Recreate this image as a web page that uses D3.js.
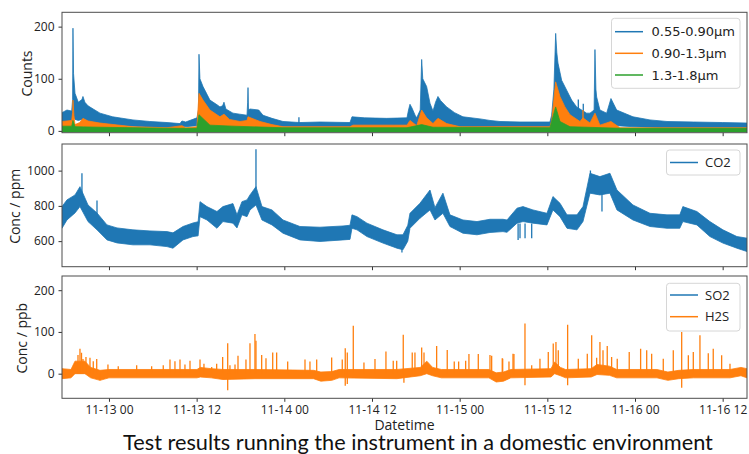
<!DOCTYPE html>
<html>
<head>
  <meta charset="utf-8">
  <title>Domestic environment test</title>
  <script src="https://cdn.jsdelivr.net/npm/d3@7"></script>
  <style>
  body {
    margin: 0;
    background: #fff;
  }
  text {
    font-family: "Open Sans", sans-serif;
    fill: #222;
  }
  .tick text {
    font-size: 12px;
  }
  .tick line {
    stroke: #333;
  }
  .domain {
    display: none;
  }
  .frame {
    fill: none;
    stroke: #4d4d4d;
    stroke-width: 1;
  }
  .legend rect {
    fill: #fff;
    fill-opacity: .8;
    stroke: #d6d6d6;
  }
  </style>
</head>
<body>
<script>
// Times are hours since 11-13 00:00, each row is [hour, low edge, high edge] of the noisy trace

// Particle counts
var small = [[-6.43,15,35],[-5.75,16,40],[-5.1,17,38],[-4.98,20,60],[-4.93,25,197],[-4.85,25,110],[-4.65,22,72],[-4.2,20,55],[-3.7,22,60],[-3.56,22,66],[-3.3,20,55],[-2.87,18,48],[-1.23,14,34],[0.5,11,27],[3.28,9,21],[5.6,7,18],[7.94,6,16],[9.72,6,14],[9.99,8,19],[10.5,8,17],[12.04,10,25],[12.25,15,40],[12.32,30,147],[12.45,30,100],[12.87,26,85],[13.82,22,59],[14.8,20,50],[15.19,20,46],[15.55,22,48],[15.74,25,55],[16.0,20,42],[16.97,16,34],[17.9,15,32],[18.89,14,30],[18.98,18,55],[19.03,18,83],[19.1,16,40],[19.3,14,42],[20.5,14,40],[21.08,12,30],[22.31,10,24],[23.82,8,18],[26.14,7,16],[28.88,7,17],[32.99,7,16],[33.26,10,27],[35,10,25],[38,10,24],[40.79,11,25],[41.0,14,40],[41.2,15,51],[41.47,12,44],[41.9,10,30],[42.12,8,25],[42.6,10,40],[42.8,15,137],[42.95,15,100],[43.48,14,85],[43.94,12,53],[44.35,10,38],[44.7,12,55],[45.03,12,66],[45.4,12,58],[46.22,12,46],[47.3,10,35],[48.45,8,27],[50.78,7,23],[52.15,7,20],[53.52,6,18],[56.26,6,17],[60.36,6,17],[60.59,10,30],[60.9,20,80],[61.14,30,187],[61.3,30,150],[61.46,28,130],[61.96,24,97],[62.65,20,78],[63.33,18,59],[64.01,15,46],[64.47,14,42],[65.38,13,34],[65.84,12,34],[66.4,12,40],[66.52,12,156],[66.65,12,80],[66.75,12,65],[67.2,11,40],[68.12,10,34],[68.71,10,62],[69.49,10,40],[71.72,8,27],[74.05,7,21],[76.38,6,18],[80,6,17],[84,6,16],[87.33,6,15]];
var medium = [[-6.43,8,18],[-5.1,8,20],[-4.98,10,35],[-4.93,10,59],[-4.8,8,30],[-4.65,4,12],[-4.0,5,16],[-3.56,8,24],[-2.87,6,19],[-1.23,5,15],[3.28,3,8],[7.94,2,6],[9.99,3,10],[10.5,2,6],[12.04,3,8],[12.32,10,72],[12.87,10,59],[13.82,8,40],[15.19,6,27],[15.74,8,32],[16.5,6,22],[17.93,5,18],[18.89,5,20],[19.03,6,27],[20.67,5,18],[22.31,4,12],[23.82,3,8],[32.99,3,8],[33.4,4,11],[40.79,4,11],[41.2,6,20],[42.12,4,10],[42.8,6,40],[43.48,5,25],[44.35,4,14],[45.03,6,24],[46.22,4,14],[48.04,3,8],[60.36,3,8],[60.6,5,20],[61.14,10,94],[61.73,10,66],[62.41,8,46],[63.1,6,31],[64.47,5,18],[64.88,5,25],[65.84,4,15],[66.52,5,34],[67.2,4,11],[68.71,4,18],[69.94,3,6],[87.33,3,6]];
var large = [[-6.43,-2,9],[-5.1,-2,9],[-4.93,-2,20],[-4.65,-2,8],[-1.23,-2,7],[7.94,-2,5],[12.04,-2,5],[12.32,-2,31],[13.82,-2,11],[16.97,-2,9],[23.82,-2,6],[40.79,-2,6],[42.8,-2,12],[44.35,-2,7],[60.36,-2,6],[61.14,-2,46],[61.73,-2,18],[63.1,-2,8],[69.94,-2,5],[87.33,-2,5]];
// single spikes: [hour, from, to]
var smallSpikes = [[26.0,14,26],[64.24,30,60],[64.92,30,52]];
var mediumSpikes = [[64.88,10,40]];

// CO2
var co2 = [[-6.43,673,796],[-5.75,720,834],[-4.65,760,862],[-3.97,796,909],[-2.87,711,805],[-1.64,664,760],[-0.27,607,692],[1.1,590,675],[3.28,579,664],[5.61,579,658],[7.94,569,654],[8.76,560,647],[10.13,607,683],[11.5,626,703],[12.2,630,710],[12.46,739,824],[13.41,720,796],[14.78,673,768],[15.6,711,796],[16.97,702,813],[17.52,675,749],[18.2,749,824],[18.89,739,834],[19.3,777,862],[20.12,805,909],[20.94,720,796],[22.31,692,777],[23.82,645,720],[26.14,607,683],[28.88,598,679],[32.03,607,686],[32.99,610,690],[33.26,673,749],[33.95,664,739],[35.31,626,702],[37.5,589,664],[39.42,560,636],[40.24,551,636],[40.9,600,690],[41.2,673,758],[42.57,730,815],[43.94,777,890],[44.62,720,790],[45.71,758,872],[46.67,683,749],[48.45,645,720],[50.37,636,711],[52.15,649,724],[53.93,654,724],[54.48,650,720],[55.85,702,787],[56.67,711,796],[58.03,702,777],[59.95,692,758],[60.77,777,853],[61.73,739,815],[62.69,673,749],[64.06,664,749],[64.88,711,796],[65.84,872,985],[67.2,862,966],[68.57,872,985],[69.53,777,890],[71.72,720,805],[74.05,683,758],[76.38,673,749],[78.13,673,749],[78.55,711,796],[80.47,692,768],[82.25,626,711],[84.03,589,664],[85.95,560,626],[87.33,541,617]];
var co2Spikes = [[-3.7,860,985],[-1.64,740,830],[20.12,900,1121],[65.9,960,1000],[40.1,600,536],[56.0,700,607],[56.26,700,617],[56.95,700,617],[57.86,700,617],[67.48,880,768]];

// Gases
var so2 = [[-6.43,0],[-4,3],[8,0],[16,-2],[29,-8],[31,-4],[44,4],[54,-5],[61,4],[67,4],[76.5,-5],[87.33,0]];
var h2s = [[-6.43,-12,12],[-5.2,-10,10],[-4.65,0,30],[-3.3,0,30],[-2.5,-10,15],[-1.23,-16,8],[0,-10,10],[12.04,-10,10],[12.5,-8,15],[14,-10,12],[15.6,-14,10],[20,-12,10],[28,-12,8],[29,-18,4],[30.5,-16,5],[31.5,-10,10],[39.4,-12,10],[42.6,-5,15],[43.5,0,30],[44.3,-5,15],[45.5,-10,10],[52,-10,10],[53,-20,2],[54,-18,4],[55,-10,10],[60.5,-8,12],[61,0,28],[61.8,-5,15],[62.5,-10,10],[66,-8,12],[66.8,-2,22],[68.5,-4,18],[69.5,-10,10],[75,-10,10],[76.5,-16,4],[78,-12,8],[80,-10,10],[85,-10,10],[86.5,-5,15],[87.33,-10,12]];
// [hour, peak] from zero
var h2sSpikes = [[-4.24,45],[-3.97,60],[-3.76,50],[-3.56,35],[-3.15,40],[-2.6,38],[-2.15,30],[-1.68,35],[-1.23,-16],[-0.14,22],[1.27,18],[3.79,20],[5.84,18],[7.43,20],[8.35,34],[9.03,30],[9.72,34],[10.4,22],[11.09,31],[12.46,34],[13.0,24],[14.06,16],[14.74,24],[15.56,40],[16.25,73],[16.25,-40],[16.56,20],[17.25,22],
  [17.66,43],[18.75,34],[19.3,73],[19.98,95],[20.12,79],[20.9,45],[21.49,37],[22.41,51],[22.95,51],[24.46,29],[26.83,34],[27.51,29],[28.43,34],[30.48,39],[31.93,34],[32.34,61],[32.34,-29],[32.62,51],[32.62,-25],[33.44,115],[34.9,27],[36.41,35],[37.91,53],[38.91,31],[39.38,31],[40.28,93],[40.37,-22],[41.51,51],[41.88,51],[42.8,63],[43.12,51],[44.85,66],[46.3,57],[47.26,29],[47.86,29],[48.82,31],[49.27,47],[50.55,47],[52.15,45],[52.38,43],[53.83,37],[54.75,29],[55.43,47],
  [53.89,36],[55.3,48],[56.94,120],[56.94,-28],[57.86,20],[58.99,36],[60.13,52],[60.81,72],[61.18,76],[61.5,56],[62.78,117],[62.78,-28],[64.24,36],[65.47,48],[66.07,92],[66.75,38],[67.2,76],[67.62,56],[68.2,66],[68.8,40],[69.57,36],[71.21,52],[72.77,60],[73.6,56],[74.28,48],[75.87,36],[77.24,56],[78.39,100],[78.39,-34],[79.3,44],[79.98,52],[80.89,92],[82.03,49],[82.71,60],[83.86,44],[85.0,24]];

var countTicks = [0, 100, 200];
var ppmTicks = [600, 800, 1000];
var ppbTicks = [0, 100, 200];

var blue = "#1f77b4", orange = "#ff7f0e", green = "#2ca02c";

var base = new Date(2019, 10, 13, 0, 0);
function toDate(h) { return new Date(base.getTime() + h * 3600000); }

var svg = d3.select("body").append("svg")
    .attr("width", 749)
    .attr("height", 454);

var left = 62, right = 747;
var x = d3.scaleTime()
    .domain([toDate(-6.43), toDate(87.33)])
    .range([left, right]);

// Set up one panel: frame, y scale, axes, clip
function panel(id, top, bottom, domain, ticks, label, labelX, showDates) {
  var y = d3.scaleLinear().domain(domain).range([bottom, top]);
  var g = svg.append("g");

  svg.append("clipPath").attr("id", id)
    .append("rect").attr("x", left).attr("y", top)
      .attr("width", right - left).attr("height", bottom - top);

  g.append("g")
      .attr("transform", "translate(" + left + ",0)")
      .call(d3.axisLeft(y).tickValues(ticks).tickFormat(d3.format("d")).tickSize(3.5).tickPadding(4));

  var xAxis = d3.axisBottom(x)
      .ticks(d3.timeHour.every(12))
      .tickSize(3.5).tickPadding(3.5)
      .tickFormat(showDates ? d3.timeFormat("%m-%d %H") : function() { return ""; });
  g.append("g")
      .attr("transform", "translate(0," + bottom + ")")
      .call(xAxis);

  g.append("text")
      .attr("transform", "translate(" + labelX + "," + ((top + bottom) / 2 + 1) + ") rotate(-90)")
      .attr("text-anchor", "middle")
      .style("font-size", "14px")
      .text(label);

  var plot = g.append("g").attr("clip-path", "url(#" + id + ")");
  return {g: g, plot: plot, y: y, top: top, bottom: bottom};
}

function band(p, rows, colour) {
  var area = d3.area()
      .x(function(d) { return x(toDate(d[0])); })
      .y0(function(d) { return p.y(d[1]); })
      .y1(function(d) { return p.y(d[2]); });
  p.plot.append("path")
      .attr("d", area(rows))
      .attr("fill", colour)
      .attr("stroke", colour)
      .attr("stroke-width", 0.8)
      .attr("stroke-linejoin", "round");
}

function spikes(p, rows, colour) {
  p.plot.selectAll(null)
    .data(rows)
    .enter().append("line")
      .attr("x1", function(d) { return x(toDate(d[0])); })
      .attr("x2", function(d) { return x(toDate(d[0])); })
      .attr("y1", function(d) { return p.y(d.length > 2 ? d[1] : 0); })
      .attr("y2", function(d) { return p.y(d.length > 2 ? d[2] : d[1]); })
      .attr("stroke", colour)
      .attr("stroke-width", 1.3);
}

function frame(p) {
  p.g.append("rect")
      .attr("class", "frame")
      .attr("x", left).attr("y", p.top)
      .attr("width", right - left).attr("height", p.bottom - p.top);
}

function legend(p, x0, y0, w, h, items, font, size, textX) {
  var lg = p.g.append("g").attr("class", "legend");
  lg.append("rect")
      .attr("x", x0).attr("y", y0).attr("width", w).attr("height", h).attr("rx", 3);
  items.forEach(function(it) {
    lg.append("line")
        .attr("x1", x0 + 3.5).attr("x2", x0 + 31.5)
        .attr("y1", it.y).attr("y2", it.y)
        .attr("stroke", it.colour).attr("stroke-width", 1.5);
    lg.append("text")
        .attr("x", textX).attr("y", it.y).attr("dy", "0.36em")
        .style("font-family", font).style("font-size", size)
        .text(it.name);
  });
}

// Panel 1: particle counts
var p1 = panel("c1", 12.3, 132.7, [-3.5, 227.5], countTicks, "Counts", 31.5, false);
band(p1, small, blue);
spikes(p1, smallSpikes, blue);
band(p1, medium, orange);
spikes(p1, mediumSpikes, orange);
band(p1, large, green);
frame(p1);
legend(p1, 611.5, 18.3, 128.5, 70, [
  {name: "0.55-0.90\u00b5m", colour: blue, y: 31.7},
  {name: "0.90-1.3\u00b5m", colour: orange, y: 53.3},
  {name: "1.3-1.8\u00b5m", colour: green, y: 75}
], "DejaVu Sans", "13px", 651.5);

// Panel 2: CO2
var p2 = panel("c2", 144, 266.7, [455, 1151], ppmTicks, "Conc / ppm", 19.5, false);
band(p2, co2, blue);
spikes(p2, co2Spikes, blue);
frame(p2);
legend(p2, 666.5, 150, 73.5, 25, [
  {name: "CO2", colour: blue, y: 162.5}
], "Open Sans", "13px", 705);

// Panel 3: SO2 and H2S
var p3 = panel("c3", 276, 398.3, [-59, 234], ppbTicks, "Conc / ppb", 26.5, true);
p3.plot.append("path")
    .attr("d", d3.line()
      .x(function(d) { return x(toDate(d[0])); })
      .y(function(d) { return p3.y(d[1]); })(so2))
    .attr("fill", "none")
    .attr("stroke", blue)
    .attr("stroke-width", 1.5);
band(p3, h2s, orange);
spikes(p3, h2sSpikes, orange);
frame(p3);
legend(p3, 666.5, 283.3, 73.5, 47.7, [
  {name: "SO2", colour: blue, y: 295},
  {name: "H2S", colour: orange, y: 316.7}
], "Open Sans", "13px", 705);

svg.append("text")
    .attr("x", 404.5).attr("y", 429.5)
    .attr("text-anchor", "middle")
    .style("font-size", "14px")
    .text("Datetime");

// Caption below the figure, fitted to its width in the picture
var title = svg.append("text")
    .attr("x", 418).attr("y", 450)
    .attr("text-anchor", "middle")
    .style("font-family", "Lato, sans-serif")
    .style("font-size", "21px")
    .style("fill", "#111")
    .text("Test results running the instrument in a domestic environment");
var len = title.node().getComputedTextLength();
title.style("font-size", (21 * 590 / len) + "px");
</script>
</body>
</html>
